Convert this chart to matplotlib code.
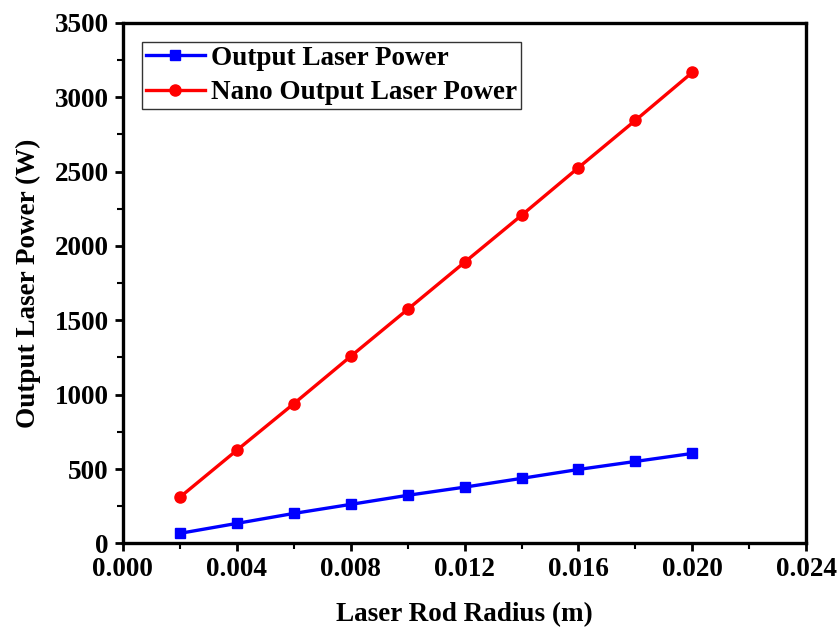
import matplotlib
matplotlib.use("Agg")
import matplotlib.pyplot as plt
from matplotlib.ticker import MultipleLocator

radius = [0.002, 0.004, 0.006, 0.008, 0.010, 0.012, 0.014, 0.016, 0.018, 0.020]
output_power = [67, 134, 201, 262, 323, 378, 437, 497, 551, 605]
nano_power = [309, 625, 938, 1257, 1573, 1890, 2206, 2527, 2845, 3168]

plt.rcParams['font.family'] = ['Liberation Serif', 'DejaVu Serif']
plt.rcParams['font.weight'] = 'bold'

fig = plt.figure(figsize=(8.4, 6.37), dpi=100)
ax = fig.add_axes([0.146, 0.147, 0.814, 0.817])

ax.plot(radius, output_power, color='#0000ff', marker='s', markersize=7.5,
        linewidth=2.4, label='Output Laser Power')
ax.plot(radius, nano_power, color='#ff0000', marker='o', markersize=8,
        linewidth=2.4, label='Nano Output Laser Power')

ax.set_xlim(0, 0.024)
ax.set_ylim(0, 3500)
ax.xaxis.set_major_locator(MultipleLocator(0.004))
ax.xaxis.set_minor_locator(MultipleLocator(0.002))
ax.yaxis.set_major_locator(MultipleLocator(500))
ax.yaxis.set_minor_locator(MultipleLocator(250))
ax.xaxis.set_major_formatter(plt.FuncFormatter(lambda v, p: f"{v:.3f}"))

ax.tick_params(which='major', direction='out', length=6, width=2, labelsize=19.5, pad=4)
ax.tick_params(which='minor', direction='out', length=4, width=1.5)
for s in ax.spines.values():
    s.set_linewidth(2.4)

ax.set_xlabel('Laser Rod Radius (m)', fontsize=19.5, fontweight='bold', labelpad=14)
ax.set_ylabel('Output Laser Power (W)', fontsize=19.5, fontweight='bold', labelpad=10)

leg = ax.legend(loc='upper left', fontsize=19.5, frameon=True, fancybox=False,
                edgecolor='black', borderaxespad=0.7, handlelength=2.2,
                handletextpad=0.2, labelspacing=0.35, borderpad=0.15)
leg.get_frame().set_linewidth(1.0)

fig.savefig('out.png', dpi=100)
